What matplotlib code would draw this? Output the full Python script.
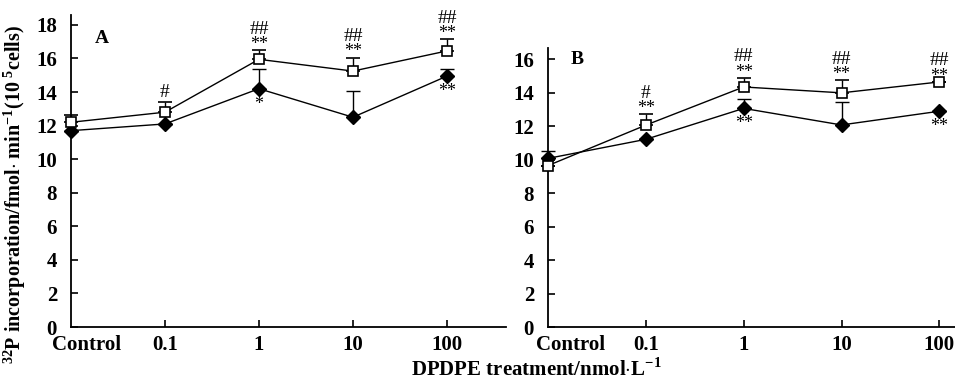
import numpy as np
import matplotlib
matplotlib.use('Agg')
import matplotlib.pyplot as plt

plt.rcParams['font.family'] = ['Liberation Serif', 'DejaVu Serif']
plt.rcParams['mathtext.fontset'] = 'custom'
plt.rcParams['mathtext.rm'] = 'Liberation Serif'
plt.rcParams['mathtext.bf'] = 'Liberation Serif:bold'

doses = ['Control', '0.1', '1', '10', '100']

# panel A
a_sq = [12.2, 12.8, 15.95, 15.25, 16.45]
a_sq_err = [0.45, 0.6, 0.55, 0.8, 0.7]
a_dia = [11.7, 12.1, 14.2, 12.5, 14.95]
a_dia_err = [0, 0, 1.2, 1.55, 0.45]
a_sq_marks = [('', ''), ('#', ''), ('##', '**'), ('##', '**'), ('##', '**')]
a_dia_marks = ['', '', '*', '', '**']

# panel B
b_sq = [9.65, 12.07, 14.35, 14.0, 14.65]
b_sq_err = [0, 0.65, 0.55, 0.75, 0]
b_dia = [10.08, 11.22, 13.07, 12.08, 12.9]
b_dia_err = [0.45, 0, 0.55, 1.35, 0]
b_sq_marks = [('', ''), ('#', '**'), ('##', '**'), ('##', '**'), ('##', '**')]
b_dia_marks = ['', '', '**', '', '**']


def noclip(cont):
    for art in cont.get_children():
        art.set_clip_on(False)


def panel(ax, sq, sq_err, dia, dia_err, sq_marks, dia_marks, letter, ylim, xmax, ctrl_shift):
    x = np.arange(len(doses))
    c = ax.errorbar(x, dia, yerr=[np.zeros(len(dia)), dia_err], color='black', lw=1.0,
                    marker='D', ms=7, mfc='black', mec='black', capsize=5, capthick=1.0,
                    elinewidth=1.0, zorder=2)
    noclip(c)
    c = ax.errorbar(x, sq, yerr=[np.zeros(len(sq)), sq_err], color='black', lw=1.0,
                    marker='s', ms=7.5, mfc='white', mec='black', mew=1.2, capsize=5,
                    capthick=1.0, elinewidth=1.0, zorder=3)
    noclip(c)
    for xi, top, (h, s) in zip(x, np.array(sq) + np.array(sq_err), sq_marks):
        if s:
            ax.annotate(s, (xi, top), xytext=(0, -2), textcoords='offset points',
                        ha='center', va='bottom', fontsize=13)
            ax.annotate(h, (xi, top), xytext=(0, 9), textcoords='offset points',
                        ha='center', va='bottom', fontsize=14)
        elif h:
            ax.annotate(h, (xi, top), xytext=(0, 1), textcoords='offset points',
                        ha='center', va='bottom', fontsize=14)
    for xi, y, s in zip(x, dia, dia_marks):
        if s:
            ax.annotate(s, (xi, y), xytext=(0, -5), textcoords='offset points',
                        ha='center', va='top', fontsize=13)
    ax.text(0.072, 0.925 if letter == 'A' else 0.96, letter, transform=ax.transAxes,
            fontsize=14, fontweight='bold', va='center', ha='center')
    ax.set_xlim(0, xmax)
    ax.set_ylim(*ylim)
    ax.set_xticks(x + np.array([ctrl_shift, 0, 0, 0, 0]))
    ax.set_xticklabels(doses, fontsize=15, fontweight='bold')
    ax.xaxis.get_major_ticks()[0].tick1line.set_visible(False)
    ax.set_yticks(np.arange(0, ylim[1], 2))
    ax.tick_params(axis='y', labelsize=15, direction='in', length=5, width=1.2, pad=10)
    ax.tick_params(axis='x', direction='in', length=5, width=1.2, pad=6)
    for t in ax.get_yticklabels():
        t.set_fontweight('bold')
    for s in ['top', 'right']:
        ax.spines[s].set_visible(False)
    for s in ['left', 'bottom']:
        ax.spines[s].set_linewidth(1.3)


fig = plt.figure(figsize=(9.55, 3.81), dpi=100)
ax1 = fig.add_axes([0.0743, 0.1417, 0.4557, 0.8193])
ax2 = fig.add_axes([0.5738, 0.1417, 0.4262, 0.7323])

panel(ax1, a_sq, a_sq_err, a_dia, a_dia_err, a_sq_marks, a_dia_marks, 'A', (0, 18.6), 4.63, 0.17)
panel(ax2, b_sq, b_sq_err, b_dia, b_dia_err, b_sq_marks, b_dia_marks, 'B', (0, 16.68), 4.16, 0.23)

fig.text(0.015, 0.49, r'$^{\mathbf{32}}$P incorporation/fmol$\cdot$ min$^{\mathbf{-1}}$(10$^{\mathbf{\ 5}}$cells)',
         rotation=90, ha='center', va='center', fontsize=14.5, fontweight='bold')
fig.text(0.562, 0.03, r'DPDPE treatment/nmol$\cdot$L$^{\mathbf{-1}}$',
         ha='center', va='center', fontsize=15, fontweight='bold')

fig.savefig('out.png', dpi=100)
